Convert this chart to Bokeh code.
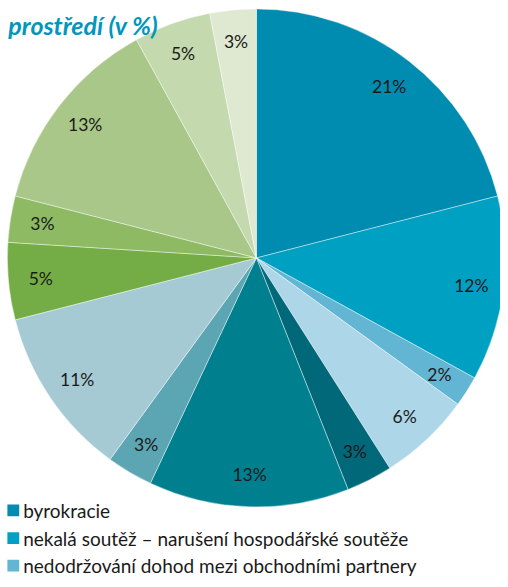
import math
from bokeh.plotting import figure
from bokeh.models import Range1d, ColumnDataSource, Label
from bokeh.core.properties import value
from bokeh.embed import file_html
from bokeh.resources import INLINE

# ---- data ----
title_text = "prostředí (v %)"
shares = [21, 12, 2, 6, 3, 13, 3, 11, 5, 3, 13, 5, 3]
slice_colors = ["#008BB0", "#00A0C2", "#62B6D3", "#ADD7E8", "#006878", "#00808F",
                "#5CA5B3", "#A5CAD4", "#74AD45", "#8DBA62", "#A8C789", "#C4D9AE", "#DFE9D2"]
legend_names = ["byrokracie",
                "nekalá soutěž – narušení hospodářské soutěže",
                "nedodržování dohod mezi obchodními partnery"]

# ---- geometry (reference pixel coordinates, y negated) ----
W, H = 500, 579
cx, cy, R = 260, -261, 253
label_r = 0.87 * R

p = figure(width=W, height=H, output_backend="svg", toolbar_location=None,
           x_range=Range1d(0, 508), y_range=Range1d(-587, 0),
           min_border=0, outline_line_color=None)
p.axis.visible = False
p.grid.visible = False
p.background_fill_color = "white"
p.border_fill_color = "white"

total = float(sum(shares))
starts, ends, lx, ly, labels = [], [], [], [], []
cum = 0.0
for v in shares:
    a0 = math.pi / 2 - 2 * math.pi * cum / total
    a1 = math.pi / 2 - 2 * math.pi * (cum + v) / total
    starts.append(a0)
    ends.append(a1)
    mid = (a0 + a1) / 2
    lx.append(cx + label_r * math.cos(mid))
    ly.append(cy + label_r * math.sin(mid))
    labels.append(f"{v}%")
    cum += v

src = ColumnDataSource(dict(start=starts, end=ends, color=slice_colors))
p.wedge(x=cx, y=cy, radius=R, start_angle="start", end_angle="end",
        direction="clock", fill_color="color", line_color="white",
        line_alpha=0.6, line_width=0.7, source=src)

lsrc = ColumnDataSource(dict(x=lx, y=ly, t=labels))
p.text(x="x", y="y", text="t", source=lsrc, text_align="center",
       text_baseline="middle", text_font=value("Lato"),
       text_font_size="17.5px", text_color="#1a1a1a")

# title
p.add_layout(Label(x=8, y=-25, text=title_text, text_font="Lato",
                   text_font_style="bold italic", text_font_size="25px",
                   text_color="#0096BE", text_baseline="alphabetic"))

# legend (entries visible in the reference)
n = len(legend_names)
leg_y = [-(517 + 28 * i) for i in range(n)]
p.rect(x=[13] * n, y=leg_y, width=12, height=12,
       fill_color=slice_colors[:n], line_color=None)
p.text(x=[23] * n, y=leg_y, text=legend_names, text_align="left",
       text_baseline="middle", text_font=value("Lato"), text_font_size="19px",
       text_color="#1a1a1a")

open("out.html", "w").write(file_html(p, INLINE))
